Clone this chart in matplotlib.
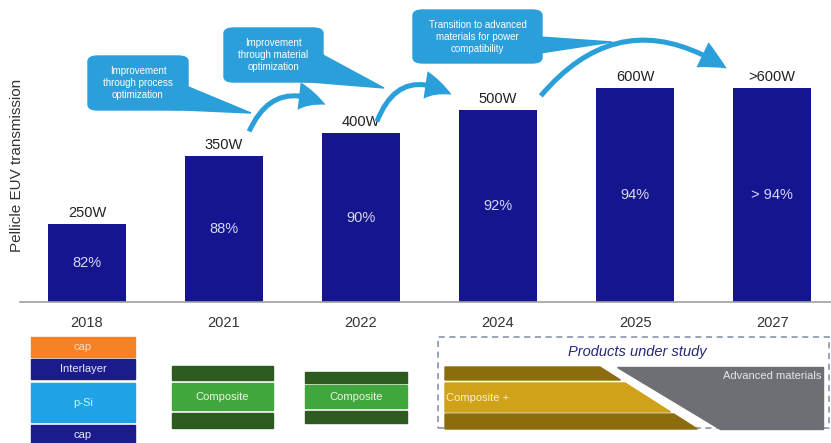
import matplotlib.pyplot as plt
import numpy as np
from matplotlib.patches import Rectangle, Polygon, FancyBboxPatch, FancyArrowPatch

plt.rcParams['font.family'] = ['Liberation Sans', 'DejaVu Sans']

years = ['2018', '2021', '2022', '2024', '2025', '2027']
transmission = [82, 88, 90, 92, 94, 94]
trans_labels = ['82%', '88%', '90%', '92%', '94%', '> 94%']
power_labels = ['250W', '350W', '400W', '500W', '600W', '>600W']

W, H = 831, 443
BAR = '#15158f'
CALLOUT = '#2a9fd9'
Y0 = 75.1


def fx(x):
    return x / W


def fy(y):
    return 1 - y / H


fig = plt.figure(figsize=(W / 100, H / 100), dpi=100)
ax = fig.add_axes([fx(20), fy(302), fx(831 - 20), 302 / H])

x = np.arange(len(years))
ax.bar(x, np.array(transmission) - Y0, bottom=Y0, width=0.57, color=BAR)
for i, v in enumerate(transmission):
    ax.text(i, (Y0 + v) / 2, trans_labels[i], ha='center', va='center',
            color='#d8d8f4', fontsize=10.5)
    ax.annotate(power_labels[i], (i, v), xytext=(0, 3), textcoords='offset points',
                ha='center', va='bottom', fontsize=10.5, color='#222222')

ax.set_xlim(-0.489, 5.43)
ax.set_ylim(Y0, 101.75)
ax.set_xticks(x)
ax.set_xticklabels(years, fontsize=10.5, color='#333333')
ax.tick_params(axis='x', length=0, pad=10)
ax.set_yticks([])
for s in ['top', 'right', 'left']:
    ax.spines[s].set_visible(False)
ax.spines['bottom'].set_color('#a0a0a0')
ax.spines['bottom'].set_linewidth(1.2)

fig.text(fx(17), fy(165), 'Pellicle EUV transmission', rotation=90,
         ha='center', va='center', fontsize=11, color='#333333')


# callout boxes with pointers
def callout(x0, y0, x1, y1, tail, text):
    box = FancyBboxPatch((fx(x0), fy(y1)), fx(x1 - x0), (y1 - y0) / H,
                         boxstyle='round,pad=0,rounding_size=0.012',
                         transform=fig.transFigure, color=CALLOUT, zorder=3)
    fig.patches.append(box)
    tri = Polygon([(fx(a), fy(b)) for a, b in tail], closed=True,
                  transform=fig.transFigure, color=CALLOUT, zorder=3)
    fig.patches.append(tri)
    fig.text(fx((x0 + x1) / 2), fy((y0 + y1) / 2), text, ha='center', va='center',
             color='white', fontsize=7, linespacing=1.25, zorder=4)


callout(88, 56, 188, 110, [(186, 86), (160, 109), (251, 113)],
        'Improvement\nthrough process\noptimization')
callout(224, 28, 323, 82, [(321, 54), (298, 81), (384, 88)],
        'Improvement\nthrough material\noptimization')
callout(413, 10, 542, 63, [(540, 37), (540, 53), (612, 42)],
        'Transition to advanced\nmaterials for power\ncompatibility')


def curved_arrow(p0, p1, rad):
    arr = FancyArrowPatch((fx(p0[0]), fy(p0[1])), (fx(p1[0]), fy(p1[1])),
                          transform=fig.transFigure,
                          connectionstyle='arc3,rad=%s' % rad,
                          arrowstyle='Simple,tail_width=0.18,head_width=1.0,head_length=1.0',
                          mutation_scale=20, color=CALLOUT, lw=0, zorder=3)
    fig.patches.append(arr)


curved_arrow((248, 134), (328, 106), -0.55)
curved_arrow((376, 124), (454, 96), -0.6)
curved_arrow((539, 98), (729, 70), -0.45)


# layer schematics under the axis
def layer(x0, y0, x1, y1, color, text=None, tcolor='white'):
    fig.patches.append(Rectangle((fx(x0), fy(y1)), fx(x1 - x0), (y1 - y0) / H,
                                 transform=fig.transFigure, color=color))
    if text:
        fig.text(fx((x0 + x1) / 2), fy((y0 + y1) / 2), text, ha='center', va='center',
                 color=tcolor, fontsize=8)


layer(31, 337, 135, 357, '#f58225', 'cap', '#fbd9bd')
layer(31, 359, 135, 379, '#1b1b8e', 'Interlayer', '#e8e8ff')
layer(31, 383, 135, 422, '#20a3e6', 'p-Si', '#d6ecfa')
layer(31, 425, 135, 445, '#1b1b8e', 'cap', '#e8e8ff')

layer(172, 366, 273, 380, '#2c5a1f')
layer(172, 383, 273, 410, '#41a63b', 'Composite', '#eaf6e6')
layer(172, 413, 273, 428, '#2c5a1f')

layer(305, 372, 407, 383, '#2c5a1f')
layer(305, 385, 407, 408, '#41a63b', 'Composite', '#eaf6e6')
layer(305, 411, 407, 423, '#2c5a1f')

# products under study
frame = Rectangle((fx(438), fy(428)), fx(829 - 438), (428 - 337) / H,
                  transform=fig.transFigure, fill=False, ec='#7f8aa6',
                  lw=1.1, ls=(0, (4, 3)))
fig.patches.append(frame)
fig.text(fx(637), fy(352), 'Products under study', ha='center', va='center',
         fontsize=10.5, style='italic', color='#26267a')


def gold_band(y0, y1, color):
    xe0 = 600 + (y0 - 367) * 1.57
    xe1 = 600 + (y1 - 367) * 1.57
    fig.patches.append(Polygon([(fx(445), fy(y0)), (fx(xe0), fy(y0)),
                                (fx(xe1), fy(y1)), (fx(445), fy(y1))],
                               transform=fig.transFigure, color=color))


gold_band(367, 380, '#8c6c0c')
gold_band(383, 412, '#cfa21a')
gold_band(414, 429, '#8c6c0c')
fig.text(fx(446), fy(398), 'Composite +', ha='left', va='center',
         fontsize=8, color='#fbf0c8')

gray = Polygon([(fx(617), fy(367)), (fx(823), fy(367)), (fx(823), fy(429)),
                (fx(720), fy(429))], transform=fig.transFigure, color='#6e6f74')
fig.patches.append(gray)
fig.text(fx(821), fy(376), 'Advanced materials', ha='right', va='center',
         fontsize=8, color='#e6e6e6')

fig.savefig('out.png', dpi=100)
